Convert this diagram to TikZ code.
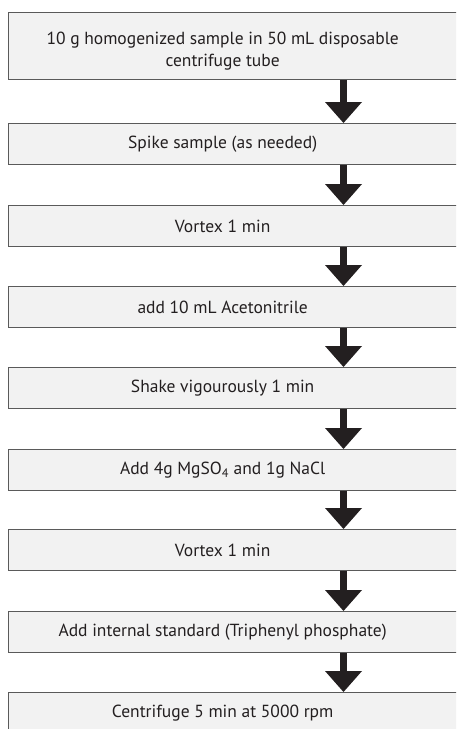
\documentclass[tikz,border=0pt]{standalone}
\usepackage{fontspec}
\setmainfont{PT Sans}
\usetikzlibrary{arrows.meta}
\definecolor{boxfill}{HTML}{F2F2F2}
\definecolor{boxline}{HTML}{5A5A5A}
\definecolor{ink}{HTML}{231F20}
\newcommand{\steptext}[1]{\parbox{428pt}{\centering #1}\hspace*{34pt}}
\begin{document}
\begin{tikzpicture}[x=1pt,y=-1pt,
  stepbox/.style={draw=boxline, line width=1.3pt, fill=boxfill, anchor=north west,
    inner xsep=0pt, inner ysep=0pt, minimum width=462pt, minimum height=41pt,
    font=\fontsize{17.5}{21.5}\selectfont, text=ink},
  flow/.style={draw=ink, line width=7pt, -{Triangle[width=37pt,length=21pt,line width=0pt]}}]
\useasboundingbox (0,0) rectangle (456,729);
\clip (0,0) rectangle (456,729);
\fill[white] (0,0) rectangle (456,729);
\coordinate (ax) at (343.5,0);
\node[stepbox, minimum height=67pt] (b1) at (8,12) {\raisebox{-5pt}[\height][\depth]{\steptext{10 g homogenized sample in 50 mL disposable\\centrifuge tube}}};
\node[stepbox] (b2) at (8,123) {\steptext{Spike sample (as needed)}};
\node[stepbox] (b3) at (8,205) {\steptext{Vortex 1 min}};
\node[stepbox] (b4) at (8,286) {\steptext{add 10 mL Acetonitrile}};
\node[stepbox] (b5) at (8,367) {\steptext{Shake vigourously 1 min}};
\node[stepbox] (b6) at (8,449) {\steptext{Add 4g MgSO\textsubscript{4} and 1g NaCl}};
\node[stepbox] (b7) at (8,529) {\steptext{Vortex 1 min}};
\node[stepbox] (b8) at (8,611) {\steptext{Add internal standard (Triphenyl phosphate)}};
\node[stepbox] (b9) at (8,692) {\steptext{Centrifuge 5 min at 5000 rpm}};
\draw[flow] (b1.south -| ax) -- (b2.north -| ax);
\draw[flow] (b2.south -| ax) -- (b3.north -| ax);
\draw[flow] (b3.south -| ax) -- (b4.north -| ax);
\draw[flow] (b4.south -| ax) -- (b5.north -| ax);
\draw[flow] (b5.south -| ax) -- (b6.north -| ax);
\draw[flow] (b6.south -| ax) -- (b7.north -| ax);
\draw[flow] (b7.south -| ax) -- (b8.north -| ax);
\draw[flow] (b8.south -| ax) -- (b9.north -| ax);
\end{tikzpicture}
\end{document}
